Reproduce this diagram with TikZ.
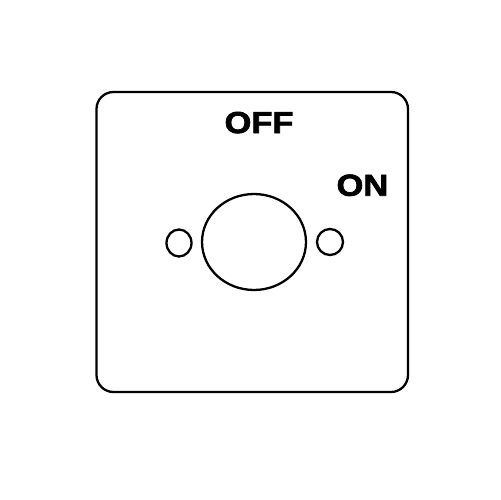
\documentclass[tikz,border=0pt]{standalone}
\usepackage{fontspec}
\newfontfamily\platefont[FakeStretch=1.14,FakeBold=2.5]{Liberation Sans Bold}
\tikzset{
  plate/.style={draw=black,line width=1.3pt,rounded corners=0.34cm},
  hole/.style={draw=black,line width=1.3pt},
  legend/.style={font=\platefont\fontsize{17.2}{20}\selectfont,inner sep=0pt,anchor=base}
}
\begin{document}
\begin{tikzpicture}[x=0.02cm,y=-0.02cm]
\useasboundingbox (0,0) rectangle (500,500);
\draw[plate] (96.5,92) rectangle (408,392);
\draw[hole] (254,242) ellipse [x radius=1.04cm,y radius=0.96cm];
\draw[hole] (179,243) ellipse [x radius=0.25cm,y radius=0.27cm];
\draw[hole] (330,242) circle [radius=0.26cm];
\node[legend] (off) at (259,133) {OFF};
\node[legend] (on) at (362.4,195.7) {ON};
\end{tikzpicture}
\end{document}
